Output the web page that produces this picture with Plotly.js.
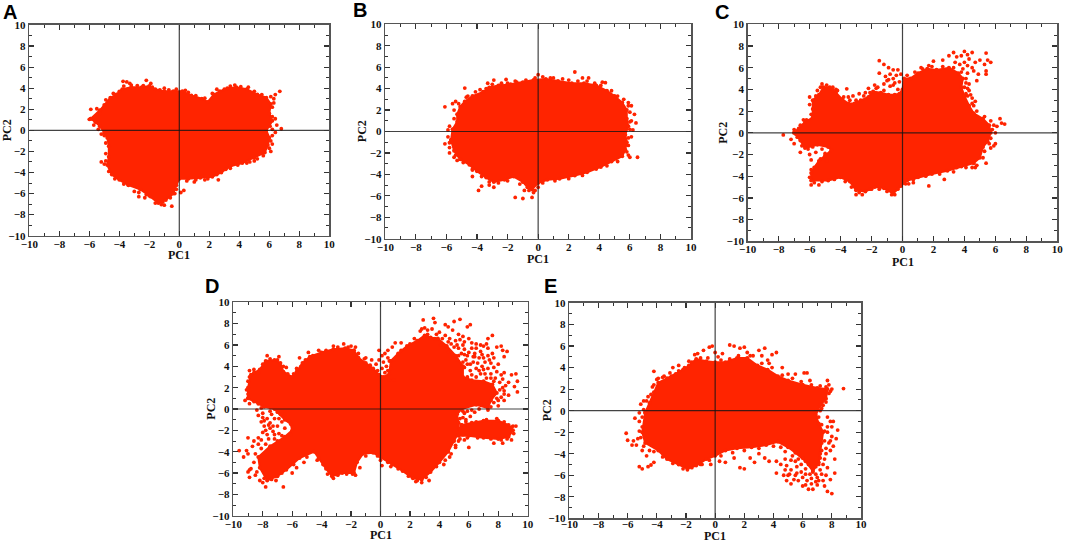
<!DOCTYPE html>
<html><head><meta charset="utf-8">
<script src="https://cdn.plot.ly/plotly-3.0.1.min.js"></script>
<style>html,body{margin:0;padding:0;background:#fff}#c{width:1065px;height:543px}</style>
</head><body><div id="c"></div>
<script>
const panelNames = ['A','B','C','D','E'];
const tickValues = [-10,-8,-6,-4,-2,0,2,4,6,8,10];
const axisSpan = [-10,10];
const crossZero = [0,0];

const outlineA = [[-5.9,1.1],[-5.3,1.9],[-5,2.4],[-4.6,3.1],[-4.2,3.4],[-3.8,3.9],[-3.2,4.1],[-2.5,4.1],[-2,4.2],[-1.6,3.9],[-1,3.7],[-0.4,3.7],[0.2,3.7],[0.8,3.3],[1.5,3.0],[1.9,2.7],[2.3,3.4],[2.7,3.7],[3.2,4.0],[3.8,4.1],[4.5,3.9],[5.2,3.4],[5.8,3.1],[6.1,2.5],[6.0,1.6],[6.2,0.9],[5.8,0.0],[6.0,-0.7],[5.9,-1.4],[5.7,-2.1],[5.0,-2.6],[4.2,-3.1],[3.4,-3.4],[2.8,-4],[2.2,-4.4],[1.4,-4.5],[0.6,-4.6],[0.0,-4.6],[-0.2,-5.2],[-0.4,-6.0],[-0.9,-6.6],[-1.4,-6.9],[-2.0,-6.2],[-2.6,-5.6],[-3.4,-5.2],[-4.0,-4.7],[-4.5,-4.2],[-4.8,-3.3],[-4.7,-2.5],[-4.7,-1.5],[-4.8,-0.7],[-5,-0.2],[-5.3,0.4],[-5.6,0.8]];
const strayA = [[-6,1.05],[-5.9,2],[-5.5,2.05],[-5.3,1.6],[-3.75,4.65],[-3.5,4.6],[-3.3,4.45],[-2.2,4.75],[-1.9,4.45],[-1,4],[6.7,3.7],[6.4,3.4],[6.3,3],[6.8,0.15],[6.5,0.5],[6.4,-0.2],[6.4,1.1],[6.2,-1.3],[6.1,-2],[-5.2,-0.35],[-5.2,-3],[-4.9,-2.9],[-3,-5.8],[-2.7,-6.3],[-2.3,-6.4],[-1.9,-6.3],[-2.7,-5.9],[-0.5,-7.2],[-1,-7.1],[-1.2,-7.05],[-0.3,-6.0],[0.3,-5.7],[0.1,-5.9],[1,-4.9],[1.7,-4.7],[2.6,-4.7],[3.4,-3.6],[4.5,-3.1],[5,-2.9]];
const fringeA = [[-4.9,2.9],[-4.4,3.5],[-4,3.7],[-3.7,4.2],[-3.2,4.3],[-2.8,4.25],[-2.4,4.25],[-1.8,4.1],[-1.3,3.85],[-0.7,3.85],[-0.2,3.9],[0.4,3.8],[0.6,3.6],[1.1,3.3],[1.7,3.05],[2.2,3.5],[2.5,3.9],[3,3.9],[3.4,4.2],[3.7,4.3],[4.1,4.15],[4.6,4.1],[5,3.7],[5.5,3.4],[6.1,3.2],[6.3,2.6],[6.2,2.2],[6.2,1.3],[6.05,0.4],[6.2,0.1],[6.2,-0.5],[6.1,-1],[6,-1.7],[5.6,-2.4],[5.2,-2.7],[4.7,-3],[3.9,-3.3],[3.1,-3.7],[2.5,-4.2],[1.9,-4.6],[1.1,-4.7],[0.5,-4.8],[-0.2,-5.6],[-0.6,-6.4],[-1.1,-6.8],[-1.6,-6.9],[-2.2,-6.1],[-2.8,-5.4],[-3.7,-5.1],[-4.3,-4.6],[-4.7,-3.9],[-5,-3.2],[-4.9,-2.2],[-4.9,-1.2],[-5,-0.5],[-5.4,0.1],[-5.7,0.5]];

const outlineB = [[-5.7,-0.8],[-5.6,0.2],[-5.3,0.9],[-5.3,1.6],[-5.1,2.3],[-4.8,2.8],[-4.3,3.3],[-3.6,3.7],[-3.2,4.1],[-2.6,4.3],[-1.8,4.4],[-1,4.6],[-0.3,4.8],[0.5,4.9],[1.3,4.7],[2.2,4.5],[3,4.5],[3.8,4.3],[4.5,3.8],[5,3.3],[5.5,2.7],[5.8,2],[5.8,1.2],[5.9,0.5],[5.7,-0.3],[5.8,-1],[5.7,-1.7],[5.5,-2.3],[4.8,-2.8],[4.1,-3.3],[3.2,-3.8],[2.4,-4.1],[1.4,-4.4],[0.6,-4.5],[0,-4.8],[-0.4,-5.4],[-0.7,-5.2],[-1,-4.7],[-1.6,-4.2],[-2.2,-4.5],[-2.9,-4.7],[-3.4,-4.3],[-4,-3.7],[-4.5,-3.1],[-5.1,-2.6],[-5.5,-1.8]];
const strayB = [[-6.1,2.3],[-5.6,2.6],[-5.4,2.8],[-4.8,4.05],[-4.7,3.2],[-5.9,0.15],[-6.1,-1.15],[-5.8,-1.05],[-5.8,-2],[-5.4,-2.2],[-5.3,-2.7],[-4.3,-4.2],[-4.3,-3.6],[-3.9,-5.5],[-3.7,-5.1],[-3.2,-5],[-2.9,-5.2],[-1.5,-6.15],[-1,-6.25],[-0.4,-6.15],[-0.9,-5.5],[-0.3,-5.7],[0,-5.2],[2.4,5.55],[0,5.3],[2.9,5],[3.3,5],[-2.1,4.85],[-2.9,4.8],[-3.3,4.5],[4.2,4.6],[4.4,4.55],[6.5,-2.4],[6.0,-2.4],[5.9,-2.2],[6.2,0.15],[6.4,0.8],[6.3,1.6],[6.1,2.4],[5.9,2.7],[6.1,1],[6.1,-0.5],[-1.5,4.7],[1,5]];
const fringeB = [[-5.9,-0.5],[-5.8,0.5],[-5.5,1.2],[-5.5,2],[-5.2,2.6],[-4.6,3.3],[-4.1,3.7],[-3.8,3.9],[-3.4,4],[-3,4.4],[-2.4,4.5],[-2,4.5],[-1.4,4.6],[-0.8,4.8],[-0.2,5],[0.3,5.1],[0.8,5],[1.6,4.9],[2,4.8],[2.6,4.7],[3.2,4.7],[3.7,4.5],[4.1,4.3],[4.8,3.8],[5.2,3.3],[5.6,3],[5.9,2.4],[6,1.8],[6,0.9],[6,0.2],[5.9,-0.6],[5.9,-1.3],[5.8,-1.9],[5.2,-2.8],[4.5,-3.2],[3.8,-3.5],[2.9,-4.1],[2,-4.4],[1.1,-4.6],[0.3,-4.8],[-0.2,-5.5],[-0.6,-5.5],[-1.2,-4.9],[-2,-4.6],[-2.6,-4.8],[-3.2,-4.7],[-3.7,-4.2],[-4.3,-3.5],[-4.9,-2.9],[-5.5,-2.4],[-5.8,-1.5]];

const outlineC = [[-7,0],[-6.7,0.4],[-6.3,1],[-5.8,1.4],[-5.8,2.2],[-5.8,3],[-5.4,3.5],[-5.1,4.2],[-4.7,4.2],[-4.3,3.7],[-3.9,3.1],[-3.5,2.7],[-3.1,2.7],[-2.7,3],[-2.2,3.3],[-1.9,3.8],[-1.4,3.7],[-0.9,3.5],[-0.5,3.5],[-0.2,3.6],[0,4],[0.1,5],[0.5,5],[1,5.5],[1.6,5.9],[2.2,5.8],[3,6],[3.6,5.5],[3.9,5],[3.8,4.2],[4.0,3.4],[4.3,2.5],[4.6,1.8],[5.2,1.3],[5.6,0.7],[5.7,0],[5.5,-0.8],[5.2,-1.3],[5,-2.3],[4.6,-2.8],[3.8,-3.1],[2.9,-3.5],[1.9,-3.8],[1,-4.1],[0.3,-4.4],[-0.1,-4.9],[-0.6,-5.6],[-1.2,-5.1],[-1.8,-5],[-2.4,-5.4],[-3,-5.3],[-3.4,-4.5],[-4,-4.1],[-4.8,-4.4],[-5.9,-4.4],[-5.9,-3.7],[-5.7,-3.2],[-5.4,-2.6],[-5,-2.1],[-4.6,-1.6],[-4.8,-1.3],[-5.5,-1.1],[-6.3,-1.4],[-6.6,-0.7]];
const strayC = [[-7.7,-0.2],[-7.2,-0.6],[-7,-1],[-6.9,-0.1],[-6.4,1.2],[-6.6,-1.8],[-6,-2],[-5.9,-2.5],[-5.9,-4.8],[-5.4,-4.8],[-3,-5.7],[-2.6,-5.7],[-2.1,-5.2],[-0.7,-5.7],[0.4,-4.7],[0.7,-4.6],[1.7,-4.9],[2.7,-4.3],[3.5,-3.2],[4.5,-3.2],[4.7,-3.2],[5.4,-2.8],[6,-1],[5.9,-1.2],[5.7,-1.4],[6,0],[6.3,1.3],[6.1,0.6],[6.4,0.9],[6.6,0.8],[5.9,0.7],[-1.5,6.65],[-1.5,5.5],[-1.2,6.3],[-0.9,6],[-0.6,5.8],[-0.3,5.8],[-0.1,5.4],[-0.6,5],[-1,4.8],[-3.6,4.05],[-4.3,4],[-4.5,3.9],[-5.2,4.5],[-1.6,4.2],[3,7.1],[3.3,7.4],[3.5,7],[3.8,7.1],[4,7.5],[4.2,7.2],[4.5,7.4],[5.4,7.35],[5.5,6.7],[5.7,6.5],[5,6.7],[5.3,6.3],[4.7,6.5],[4.5,6],[5.4,5.7],[5.4,5.4],[4.9,5.4],[4.6,5.7],[4.2,5.5],[4.8,4.8],[4.3,4.5],[4.4,3.5],[4.6,2.5],[2,6.6],[2.6,6.7],[1.7,6.2],[1.2,6],[3.4,6.5],[3.7,6.3],[4,6.5],[4.3,6.8],[3.9,5.9],[4.2,6.2]];
const fringeC = [[-7,0.3],[-6.6,0.7],[-6.2,1.2],[-5.9,1.7],[-6,2.6],[-6,3.3],[-5.6,3.4],[-5.5,3.9],[-5.3,4.2],[-4.9,4.4],[-4.5,4.2],[-4.2,3.9],[-3.8,3.3],[-3.4,3],[-3,3],[-2.5,3.4],[-2.1,3.7],[-1.7,4.1],[-1.2,3.9],[-0.8,4.3],[-0.6,4.4],[-0.3,4],[0.3,5.3],[0.8,5.6],[1.3,5.9],[1.9,6.1],[2.6,6.1],[3.3,6],[3.8,5.6],[4.1,5],[4,4.2],[4.2,3.4],[4.5,2.7],[4.8,2],[5.3,1.5],[5.7,1.1],[5.8,0.3],[5.7,-0.5],[5.6,-1],[5.3,-1.7],[5.2,-2.3],[4.8,-3],[4.1,-3.2],[3.3,-3.6],[2.4,-3.8],[1.5,-4],[0.7,-4.3],[0.2,-4.7],[-0.3,-5.2],[-0.5,-5.7],[-1,-5.4],[-1.5,-5.2],[-2,-5.2],[-2.8,-5.5],[-3.3,-5],[-3.7,-4.5],[-4.4,-4.3],[-5.2,-4.5],[-5.7,-4.6],[-6,-4.1],[-5.9,-3.4],[-5.5,-3],[-5.3,-2.4],[-4.9,-2.6],[-5.6,-1.8],[-5.2,-1.5],[-5,-1.9],[-5.8,-1.3],[-6.1,-1.5],[-6.5,-1.2],[-6.8,-0.4],[4.1,4.6],[4.3,3.9],[4.5,3.2],[4.7,2.9],[4.2,4.1],[4.1,3.6],[-1.8,4.4],[-1.2,4.5],[-1.1,5.2],[-0.8,5.4],[-0.4,5.3],[-0.2,4.7],[-0.9,4.9],[-0.5,4.6],[-2.4,3.7],[-2.2,4.1],[-2.8,3.6],[-3.2,3.4],[-3.5,3.3]];

const outlineD = [[-9,1],[-9,2],[-8.8,3.2],[-8.2,3.7],[-7.8,4.5],[-7.2,4.6],[-6.8,4.3],[-6.6,3.5],[-6,3],[-5.7,3.5],[-5.3,4.3],[-4.8,4.9],[-4,5.3],[-3.2,5.6],[-2.4,5.7],[-1.8,5.5],[-1.5,4.8],[-1,4.3],[-0.5,3.8],[-0.1,3.2],[0.2,3],[0.6,3.3],[0.7,4.5],[1.2,5.2],[1.8,5.9],[2.5,6.4],[3.0,6.9],[3.4,6.7],[3.9,6.6],[4.5,5.9],[5.1,5],[5.6,4],[5.6,3],[6.2,2.7],[7,2.6],[7.6,2.3],[7.9,1.5],[7.5,0.8],[7.3,0.1],[6.5,0.4],[5.5,0],[5.2,-0.5],[5.3,-1.3],[5.3,-2.2],[5,-3],[4.6,-4],[4,-5],[3.4,-5.9],[2.8,-6.6],[2.2,-6.5],[1.5,-5.8],[0.8,-5.2],[0,-4.5],[-0.5,-4.1],[-1.2,-4.2],[-1.6,-5],[-1.8,-6],[-2.6,-6],[-3.3,-6.3],[-3.7,-5.6],[-4.2,-4.6],[-4.5,-4],[-5.5,-4.6],[-6.4,-5.7],[-7,-6.3],[-7.7,-6.7],[-8.2,-5.5],[-8.3,-4.5],[-7.5,-3.5],[-6.5,-2.6],[-6,-2],[-6.1,-1.4],[-6.5,-1],[-7.2,0],[-7.9,0.2],[-8.3,0.5]];
const lobeD = [[5.5,-1.5],[6.2,-1.3],[7,-1.1],[8,-1.1],[8.7,-1.5],[9,-2],[8.7,-2.6],[8,-2.8],[7,-2.7],[6,-2.5],[5.3,-2.5]];
const strayD = [[-9.2,0.8],[-9,1.4],[-8.9,3],[-8.9,3.6],[-8.6,3.7],[-7.7,5],[-6.9,4.9],[-6.4,3.9],[-8,-0.4],[-7.7,-0.9],[-7.9,-1.6],[-7.5,-1.3],[-7.7,-2.4],[-7.3,-2.1],[-7,-1.6],[-6.7,-1.2],[-6.5,-1.8],[-7.2,-2.8],[-8.3,-2.7],[-9,-2.7],[-8.7,-3.5],[-9.1,-3.9],[-9.6,-3.9],[-9.3,-4.5],[-9,-4.2],[-8.9,-5.7],[-9,-5.9],[-8.8,-5.6],[-8.9,-6.4],[-8.5,-6.2],[-8.2,-6.7],[-8,-6.9],[-7.8,-7.3],[-7.1,-6.7],[-6.6,-7.3],[-6,-6],[-5.7,-5.5],[-5.2,-5],[-1.9,-6.1],[-3.2,-6.5],[0,-4.8],[0.1,-5.3],[0.7,-5.4],[2.8,-6.9],[3.3,-6.7],[2.4,-6.8],[4.3,-5.2],[4.7,-4.5],[5.1,-3.6],[5.3,-3],[6,-3.6],[5.7,-2.9],[5.9,-0.2],[6.4,-0.3],[6.1,-0.7],[5.6,-0.8],[7.5,0.2],[8.4,1.4],[8.7,1.3],[8.4,0.8],[8,0.3],[8.7,2.5],[8.9,3.2],[9.2,3.3],[9.3,2.6],[9.1,2.1],[9.3,1.6],[8.5,2.2],[8.4,3.4],[8.3,2.8],[9,-1.6],[9.2,-1.6],[8.9,-2.9],[8.3,-3.2],[7.7,-3.2],[3.6,8.5],[3.7,8.1],[2.9,8.35],[2.8,7.5],[2.7,7.3],[4.4,7.9],[4.6,7.7],[5.4,8.4],[5.0,8.2],[6.1,7.9],[5.9,7.7],[4.9,7.4],[5.3,7],[5.6,6.8],[6,6.6],[6.2,6.2],[7.6,6.9],[7.3,6.6],[7,5.9],[7.3,5.7],[7.9,5.8],[8.2,5.9],[8.3,5.5],[8.6,5.4],[8.4,4.9],[7.7,4.8],[8.0,4.2],[7.3,5],[7,4.8],[6.7,4.8],[6.3,4.4],[6.0,5.3],[6.5,5.7],[6.8,5.4],[7.5,4.3],[7.9,3.5],[7.3,3.8],[6.9,4],[6.5,3.8],[6.1,3.6],[5.8,4.6],[5.5,5.2],[5,5.8],[4.6,6.3],[4.2,6.6],[4,7.2],[3.5,7.5],[5.1,6.4],[5.6,6],[1,6.2],[1.4,6.2],[0.8,5.8],[0.5,5.5],[0.3,5.2],[0.6,4.5],[0.1,5],[-0.1,4.6],[-0.1,5.5],[-0.6,4.6],[-1,4.8],[-1.7,5.8],[-2,5.9],[-2.5,6.1],[-3.2,5.9],[-4.2,5.5],[-4.9,5.3],[-5.5,4.8],[-5.4,4],[0.9,2.7],[0.6,2.7]];
const fringeD = [[-9.1,1.8],[-9,2.6],[-8.6,3.4],[-8.3,3.4],[-8,4.2],[-7.5,4.7],[-7,4.6],[-6.6,4],[-6.3,3.3],[-5.9,3.3],[-5.7,3.8],[-5.1,4.6],[-4.6,5],[-3.7,5.5],[-2.9,5.8],[-2.2,5.8],[-1.5,5.2],[-1.1,4.7],[-0.7,4.1],[-0.2,3.6],[0.5,3.6],[0.9,4.6],[1.4,5.5],[2,6.1],[2.3,6.6],[3.2,7],[3.7,6.6],[4.1,6],[4.6,5.4],[5.2,4.6],[5.7,3.9],[5.9,3],[6.5,3],[7.2,2.9],[7.7,2.6],[8.1,1.8],[7.9,1],[7.7,0.6],[7.3,-0.1],[7,0.5],[6,0.4],[5.6,-0.2],[5.4,-0.9],[5.5,-1.8],[5.4,-2.8],[5.1,-3.4],[4.8,-4.2],[4.4,-4.8],[3.8,-5.4],[3.1,-6.4],[2.5,-6.7],[1.9,-6.3],[1.2,-5.6],[0.5,-5],[-0.2,-4.4],[-1,-4.4],[-1.4,-5.5],[-1.7,-6.2],[-2.3,-6.1],[-2.9,-6.2],[-3.6,-6.1],[-3.9,-5.2],[-4.3,-4.8],[-5,-4.5],[-5.9,-5.2],[-6.7,-6],[-7.4,-6.6],[-7.9,-6.5],[-8.4,-5.9],[-8.6,-5],[-8.5,-4.2],[-8.1,-3.7],[-7.8,-3.3],[-7,-3],[-6.1,-2.4],[-5.9,-1.7],[-6.2,-1.1],[-6.8,-0.5],[-7.5,-0.2],[-8.1,0.1],[-8.6,0.7],[-8.9,0.5],[5.8,-1.2],[6.5,-1.2],[7.2,-1],[7.9,-0.9],[8.4,-1.2],[8.9,-1.7],[9.05,-2.3],[8.6,-2.8],[8.2,-2.9],[7.5,-2.8],[6.6,-2.7],[5.9,-2.7],[5.6,-2.4],[5.4,-1.8],[-8.4,-0.1],[-7.4,-0.5],[-7.9,-1.1],[-7.2,-0.9],[-6.9,-2.3],[-6.7,-2.5],[-7.8,-2],[-7.5,-1.8],[-8.1,-2.9],[-8.6,-3],[-8.3,-3.3],[5.7,-0.4],[6.2,-0.1],[6.7,0],[5.8,-1],[5.9,2.9],[6.2,3.2],[6.8,3.3],[7.1,3.3],[7.5,2.9],[7.8,2.9],[8.1,2.5],[8.3,2],[8.4,1.7],[8.2,1.1],[8,0.8],[6.4,4.9],[5.9,5],[5.3,5],[4.9,5.1],[4.5,5.6],[6.1,4.2],[6.6,4.3],[7.1,4.4],[7.4,4.6],[7.6,5.2],[6.9,5.1],[6.4,5.2],[5.7,5.6],[5.3,5.7],[4.8,6.1],[4.4,6.9],[3.8,7],[3.2,7.4],[3,7.6],[5.2,6],[5.7,6.3],[6.5,6.1],[6.8,6],[7.2,6.1],[-8.3,-0.6],[-8,-0.8],[-7.6,-1.5],[-7.3,-1.6],[-8,-2.2],[-7.6,-2.8],[-7.2,-2.4],[-6.9,-0.9],[-6.5,-0.5],[-7,-0.3],[-8.1,-1.2],[0.3,3.4],[0.4,4],[0.2,4.4],[0.7,3.8],[0.5,4.8],[-0.3,4.2],[0.1,3.8],[4.7,6.6],[5.4,6.5],[6.2,5.7],[7.7,3.9],[8.2,3.2],[7.5,3.3],[6.7,3.6],[7,3.7],[6.3,4.9],[5.9,4.2],[5.6,4.4],[5.7,5.1]];

const outlineE = [[-4.8,-0.2],[-4.5,0.7],[-4.2,1.7],[-3.9,2.6],[-3.3,3],[-2.7,3.4],[-2.2,3.8],[-1.8,4.2],[-1.3,4.8],[-0.6,4.6],[0,4.5],[0.7,4.5],[1.5,4.9],[2.2,4.9],[2.9,4.2],[3.6,3.8],[4.3,3.2],[5,2.8],[6,2.4],[7,2.1],[7.7,2],[7.6,1.1],[7.2,0.5],[6.9,-0.4],[7.1,-1.2],[7.4,-2],[7.3,-3],[7.2,-4],[7.1,-4.8],[6.7,-5.6],[6.2,-4.7],[5.5,-3.9],[5,-3.4],[4.3,-2.9],[3.5,-3.2],[2.5,-3.4],[1.5,-3.5],[0.7,-3.7],[0,-4.2],[-0.6,-4.5],[-1.3,-5.1],[-1.9,-5.4],[-2.5,-5],[-3.3,-4.5],[-3.9,-3.7],[-4.8,-3],[-5,-2]];
const strayE = [[-6.1,-2.1],[-6,-2.75],[-5.6,-2.8],[-5.7,-3.2],[-5.4,-3.2],[-5.3,-2.6],[-5.2,-5.2],[-5,-5.4],[-4.6,-5.2],[-4.4,-5.05],[-4.2,-4.8],[-4.7,-4.2],[-5,-3.7],[-4.5,-3.7],[-5.2,-1.9],[-5.5,-0.7],[-5.2,-1],[-5.2,-0.2],[-5.1,0.6],[-4.9,0.9],[-4.6,1.3],[-4.3,2.2],[-4.2,3.65],[-3.9,3],[-3.5,3.2],[-3.1,3.5],[-2.9,4],[-2.5,4.2],[-1.8,4.6],[-1.4,5.2],[-1.2,5.3],[-0.8,5.6],[-0.4,5.9],[-0.2,6],[0,5.4],[0.2,5],[0.5,5.3],[1,6.1],[1.3,6],[1.7,5.8],[2,5.9],[2.2,5.4],[2.6,5.1],[3,5.6],[3.4,5.8],[3.2,5.1],[3.6,4.7],[3.9,5.2],[4.2,5.4],[3.7,4.4],[4.6,4],[5,3.4],[5.5,3.4],[6.1,3.5],[6.3,3.5],[6.5,2.8],[7.7,2.8],[7.8,2.4],[8,2],[7.9,1.8],[8.8,2.05],[7.4,0.5],[7.2,0],[6.9,0],[7.7,-0.6],[7.9,-1],[8.1,-1],[7.7,-1.5],[8.4,-1.8],[8,-2.4],[8.3,-2.6],[7.8,-3],[8.1,-3.3],[7.6,-3.5],[8.2,-4.5],[7.5,-4.5],[7.1,-5],[8.2,-5.8],[7.6,-6],[7.2,-5.5],[7.9,-6.4],[7.4,-6.5],[7,-6.2],[7.5,-7],[7.7,-7.5],[8,-7.7],[7,-6.9],[6.7,-7.3],[6.4,-7.3],[6,-7],[6.3,-6.5],[6.6,-6.8],[5.7,-6.5],[5.2,-6.8],[5.4,-6.4],[4.9,-6.5],[4.7,-6],[5,-6],[5.2,-5.5],[4.9,-5.1],[4.5,-5],[4.2,-5.8],[4.2,-4.7],[3.7,-4.7],[3.4,-4.4],[3,-4],[2.7,-4.8],[2.4,-4.4],[2,-5.4],[1.7,-5.3],[1.3,-4.4],[0.7,-4.8],[0.3,-4.7],[-0.3,-5],[-0.9,-5],[-1.9,-5.5],[5.6,-5.2],[5.9,-5.7],[6.2,-5.4],[6.5,-5.9]];
const fringeE = [[-5,-0.6],[-4.9,0.1],[-4.7,0.9],[-4.4,1.5],[-4.2,2.4],[-4,2.9],[-3.6,3.1],[-3,3.2],[-2.5,3.7],[-2.1,4],[-1.6,4.5],[-1,4.9],[-0.5,4.9],[0.4,4.7],[1,4.8],[1.6,5.1],[2.4,5.1],[3.2,4.4],[3.9,4],[4.6,3.3],[5.3,3],[5.9,2.7],[6.6,2.4],[7.2,2.3],[7.6,2.2],[7.8,1.6],[7.6,0.8],[7.3,0.2],[7.1,-0.6],[7.3,-1.3],[7.5,-1.9],[7.5,-2.8],[7.3,-3.7],[7.2,-4.4],[6.9,-5.2],[6.7,-5.7],[6.4,-5],[6,-4.4],[5.7,-4.5],[5.3,-4.2],[4.8,-3.8],[4.5,-3.4],[4,-3.3],[3,-3.5],[2,-3.7],[1.2,-3.9],[0.4,-4.2],[-0.4,-4.6],[-1,-5],[-1.6,-5.3],[-2.2,-5.4],[-2.9,-4.9],[-3.6,-4.3],[-4.2,-3.8],[-4.9,-3.3],[-5.1,-2.5],[-5,-1.5],[4.8,-4.5],[5.2,-4.6],[5.5,-4.7],[5.9,-5],[6.2,-5.9],[5.6,-5.8],[5.1,-5.9],[4.8,-5.5],[5.5,-6],[6,-6.2],[6.6,-6.3],[6.9,-5.9],[7.3,-5.9],[7.1,-6.5],[6.9,-6.6],[6.2,-6.9],[7.6,-4],[7.4,-5],[7.7,-5.3],[7.9,-2.8],[7.7,-2],[8,-1.5],[7.9,-3.7]];

const RED = '#ff2400';
const W = 1065, H = 543;
// pixel boxes of the panels: left, right, top, bottom, label x, label y, PC1 y, PC2 x, tick label standoff
const boxes = {
  A:[29.3,329.3,25,235.7, 1,12, 255,7, -3],
  B:[385.3,691,24.3,238.7, 350.5,10, 258.5,361.7, -3],
  C:[747.7,1057.3,24.3,241.3, 713,12, 261.5,723, -3],
  D:[233.3,527.7,302.3,515.7, 203,285.7, 535,210.7, -3],
  E:[569.3,861,303,518.3, 542,285.7, 535.8,546.7, -5]
};
const blobs = {A:[outlineA],B:[outlineB],C:[outlineC],D:[outlineD,lobeD],E:[outlineE]};
const strays = {A:strayA.concat(fringeA),B:strayB.concat(fringeB),C:strayC.concat(fringeC),D:strayD.concat(fringeD),E:strayE.concat(fringeE)};

const traces = [], layout = {
  width:W, height:H, margin:{l:0,r:0,t:0,b:0}, showlegend:false,
  paper_bgcolor:'#fff', plot_bgcolor:'#fff', annotations:[]
};
const serif = {family:'"Liberation Serif", serif', size:11, color:'#111', weight:'bold'};
const titleFont = {family:serif.family,size:12,color:'#111',weight:'bold'};
panelNames.forEach((n,i)=>{
  const b = boxes[n], k = i===0 ? '' : String(i+1);
  const xa='x'+k, ya='y'+k;
  const common = {
    range:axisSpan, tickvals:tickValues, ticks:'inside', ticklen:5, tickwidth:1.2, tickcolor:'#333',
    mirror:'ticks', showline:true, linecolor:'#555', linewidth:1.6, showgrid:false, zeroline:false,
    tickfont:serif, fixedrange:true,
    minor:{dtick:1, ticks:'inside', ticklen:3, tickwidth:1, tickcolor:'#333', showgrid:false}
  };
  layout['xaxis'+k] = Object.assign({}, common, {domain:[b[0]/W,b[1]/W], anchor:ya, tickangle:0, ticklabelstandoff:b[8]});
  layout['yaxis'+k] = Object.assign({}, common, {domain:[1-b[3]/H,1-b[2]/H], anchor:xa});
  blobs[n].forEach(o=>{
    const c = o.concat([o[0]]);
    traces.push({type:'scatter',mode:'lines+markers',xaxis:xa,yaxis:ya,
      x:c.map(p=>p[0]),y:c.map(p=>p[1]),fill:'toself',fillcolor:RED,
      line:{color:RED,width:2},marker:{color:RED,size:4},hoverinfo:'skip'});
  });
  traces.push({type:'scatter',mode:'markers',xaxis:xa,yaxis:ya,
    x:strays[n].map(p=>p[0]),y:strays[n].map(p=>p[1]),
    marker:{color:RED,size:3.8},hoverinfo:'skip'});
  const axisLine = {color:'rgba(20,20,20,0.8)',width:1.2};
  traces.push({type:'scatter',mode:'lines',xaxis:xa,yaxis:ya,x:axisSpan,y:crossZero,line:axisLine,hoverinfo:'skip'});
  traces.push({type:'scatter',mode:'lines',xaxis:xa,yaxis:ya,x:crossZero,y:axisSpan,line:axisLine,hoverinfo:'skip'});
  layout.annotations.push({text:n,xref:'paper',yref:'paper',x:b[4]/W,y:1-b[5]/H,xanchor:'left',yanchor:'middle',
    showarrow:false,font:{family:'"Liberation Sans", sans-serif',size:20,color:'#000',weight:'bold'}});
  layout.annotations.push({text:'PC1',xref:'paper',yref:'paper',x:(b[0]+b[1])/2/W,y:1-b[6]/H,xanchor:'center',yanchor:'middle',showarrow:false,borderpad:0,font:titleFont});
  layout.annotations.push({text:'PC2',xref:'paper',yref:'paper',x:b[7]/W,y:1-(b[2]+b[3])/2/H,xanchor:'center',yanchor:'middle',textangle:-90,showarrow:false,borderpad:0,font:titleFont});
});
Plotly.newPlot('c',traces,layout,{displayModeBar:false,staticPlot:true});
</script></body></html>
